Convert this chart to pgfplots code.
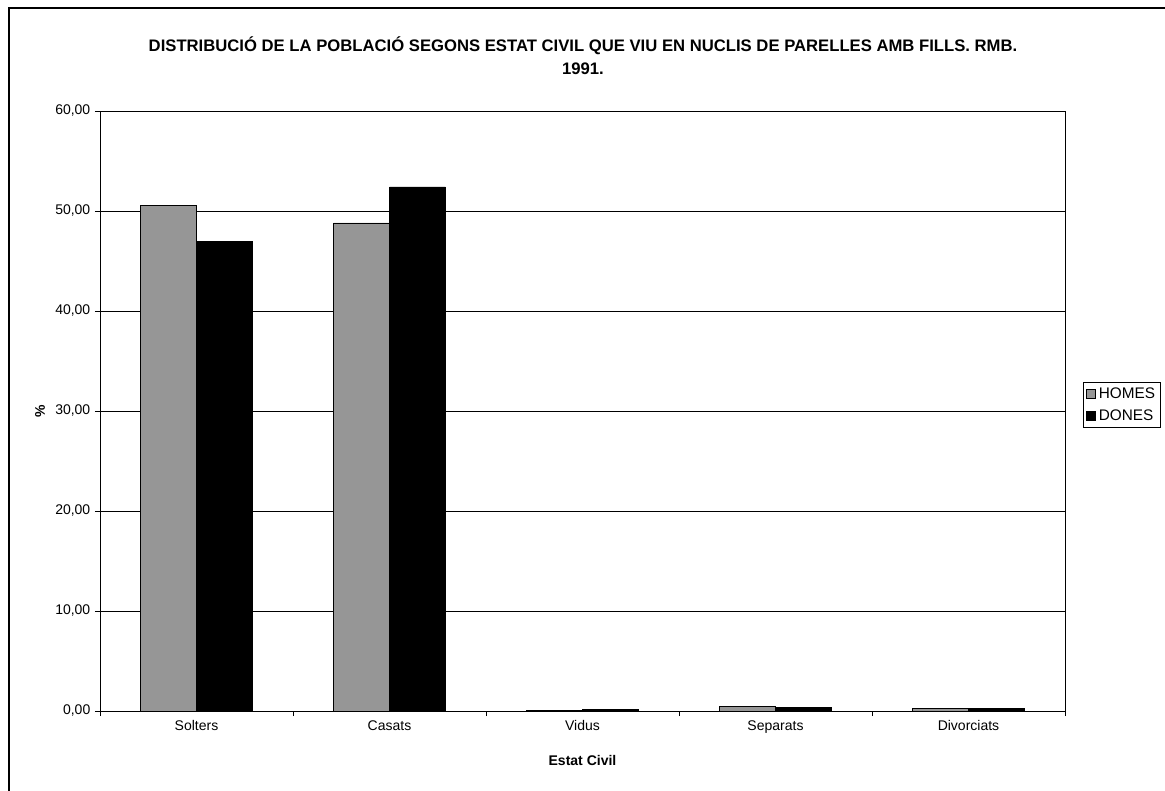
\documentclass[border=0pt]{standalone}
\usepackage{pgfplots}
\pgfplotsset{compat=1.18}
\usepackage{fontspec}
\setmainfont{Liberation Sans}
\definecolor{homes}{RGB}{150,150,150}
\begin{document}
\begin{tikzpicture}[x=0.75pt,y=0.75pt]
\path[use as bounding box] (0,0) rectangle (1165,790);
\begin{scope}
\clip (0,0) rectangle (1165,790);
\draw[line width=2pt] (9,-20) rectangle (1200,782);
\end{scope}
\node[font=\bfseries\fontsize{12.5}{17}\selectfont, align=center] at (583,734)
 {DISTRIBUCIÓ DE LA POBLACIÓ SEGONS ESTAT CIVIL QUE VIU EN NUCLIS DE PARELLES AMB FILLS. RMB.\\1991.};
\begin{axis}[
  at={(75pt,59.25pt)}, anchor=south west,
  scale only axis, width=723.75pt, height=450pt,
  font=\fontsize{10.5}{12}\selectfont,
  xmin=-0.5, xmax=4.5, ymin=0, ymax=60,
  ytick={0,10,...,60},
  ymajorgrids, grid style={black, line width=0.6pt},
  axis line style={black, line width=0.7pt},
  xtick={0,1,2,3,4},
  xticklabels={Solters,Casats,Vidus,Separats,Divorciats},
  minor xtick={-0.5,0.5,1.5,2.5,3.5,4.5},
  major x tick style={draw=none},
  tick align=outside, tick pos=left,
  major tick length=3.75pt, minor tick length=3.75pt,
  tick style={black, line width=0.6pt},
  yticklabel style={/pgf/number format/.cd, fixed, fixed zerofill, precision=2, use comma, assume math mode=true},
  xlabel={\bfseries Estat Civil},
  ylabel={\bfseries \%},
  xlabel style={at={(axis description cs:0.5,-0.082)}, anchor=center},
  ylabel style={at={(axis description cs:-0.062,0.5)}, anchor=center},
  ybar=0pt, bar width=0.29,
  legend style={at={(axis description cs:1.0187,0.51)}, anchor=west, draw=black, line width=0.6pt,
    font=\fontsize{11.5}{13}\selectfont, inner sep=2pt, row sep=3pt, legend cell align=left},
  legend image code/.code={\draw[#1, line width=0.5pt] (0pt,-3.5pt) rectangle (7pt,3.5pt);},
]
\addplot[fill=homes, draw=black, line width=0.6pt] coordinates {(0,50.55) (1,48.8) (2,0.1) (3,0.45) (4,0.25)};
\addplot[fill=black, draw=black, line width=0.6pt] coordinates {(0,46.95) (1,52.4) (2,0.15) (3,0.38) (4,0.3)};
\legend{HOMES,DONES}
\end{axis}
\end{tikzpicture}
\end{document}
